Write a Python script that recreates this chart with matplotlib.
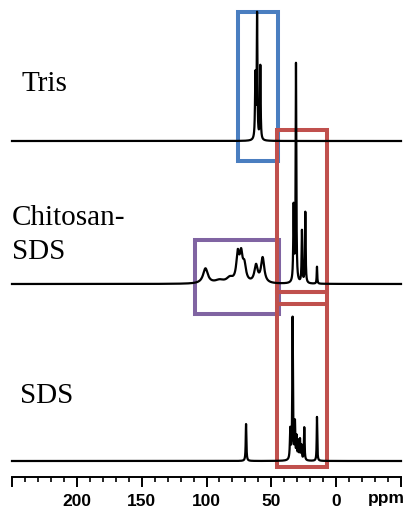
import numpy as np
import matplotlib
matplotlib.use("Agg")
import matplotlib.pyplot as plt
from matplotlib.patches import Rectangle
from matplotlib.ticker import MultipleLocator

# ---- data (peak lists) ----
# chemical shift (ppm), peak height (px), half width (ppm)
tris_ppm = [62.3, 61.0, 58.5]
tris_h = [64, 124, 74]
tris_w = [0.35, 0.3, 0.3]

chs_ppm = [100.8, 90.0, 82.0, 75.9, 73.3, 70.8, 61.8, 56.7, 32.8, 31.0, 26.4, 23.8, 14.8]
chs_h = [15, 3, 5, 27, 25, 16, 17, 25, 75, 218, 52, 71, 17]
chs_w = [2.2, 4.0, 3.0, 1.3, 1.3, 1.5, 1.5, 1.5, 0.35, 0.3, 0.3, 0.3, 0.25]

sds_ppm = [69.5, 35.4, 33.6, 31.8, 30.5, 29.2, 27.9, 26.7, 24.6, 14.8]
sds_h = [37, 30, 142, 36, 22, 18, 20, 14, 33, 44]
sds_w = [0.3, 0.35, 0.3, 0.3, 0.3, 0.3, 0.3, 0.3, 0.3, 0.25]

baselines = {"Tris": 141, "Chitosan-SDS": 284, "SDS": 461}

x_ticks = [250, 200, 150, 100, 50, 0, -50]
x_ticklabels = ["", "200", "150", "100", "50", "0", ""]

# boxes: (ppm_left, ppm_right, y_top_px, y_bottom_px, color)
boxes = [
    (108.5, 44.4, 240, 314, "#8064a2"),
    (75.9, 44.6, 12, 161, "#4a7ec0"),
    (45.6, 6.7, 130, 292, "#c0504d"),
    (45.6, 6.7, 292, 467, "#c0504d"),
]


def px_to_ppm(px):
    return (337 - px) / 1.3


def spectrum(x, ppm, h, w):
    y = np.zeros_like(x)
    for p, a, g in zip(ppm, h, w):
        y += a * g**2 / ((x - p) ** 2 + g**2)
    return y


fig = plt.figure(figsize=(4.04, 5.13), dpi=100)
ax = fig.add_axes([12 / 404, 36 / 513, 389 / 404, 477 / 513])
ax.set_xlim(250, -50)
ax.set_ylim(477, 0)
for s in ["left", "top", "right"]:
    ax.spines[s].set_visible(False)
ax.spines["bottom"].set_linewidth(1.4)
ax.set_yticks([])

# boxes
for l, r, t, b, c in boxes:
    ax.add_patch(Rectangle((r, t), l - r, b - t, fill=False, edgecolor=c,
                           linewidth=2.9, joinstyle="miter", zorder=2, clip_on=False))
ax.plot([45.6, 6.7], [304, 304], color="#c0504d", lw=2.9, zorder=2,
        solid_capstyle="butt", clip_on=False)

x = np.linspace(250, -50, 12000)
for (pp, hh, ww), key in [((tris_ppm, tris_h, tris_w), "Tris"),
                          ((chs_ppm, chs_h, chs_w), "Chitosan-SDS"),
                          ((sds_ppm, sds_h, sds_w), "SDS")]:
    y = baselines[key] - spectrum(x, pp, hh, ww)
    ax.plot(x, y, color="black", lw=1.6, zorder=3, clip_on=False)

# labels
serif = ["Liberation Serif", "DejaVu Serif"]
ax.text(px_to_ppm(22), 90.7, "Tris", family=serif, fontsize=21, va="baseline", ha="left", clip_on=False)
ax.text(px_to_ppm(11.7), 225, "Chitosan-", family=serif, fontsize=21, va="baseline", ha="left", clip_on=False)
ax.text(px_to_ppm(11.7), 259, "SDS", family=serif, fontsize=21, va="baseline", ha="left", clip_on=False)
ax.text(px_to_ppm(20), 402.7, "SDS", family=serif, fontsize=21, va="baseline", ha="left", clip_on=False)

# x axis
ax.set_xticks(x_ticks)
ax.set_xticklabels(x_ticklabels, family="Liberation Sans", fontweight="bold", fontsize=12.5)
ax.xaxis.set_minor_locator(MultipleLocator(10))
ax.tick_params(axis="x", which="major", length=7, width=1.4, pad=5, direction="out")
ax.tick_params(axis="x", which="minor", length=3.5, width=1.2, direction="out")
ax.text(px_to_ppm(387), 499, "ppm", family="Liberation Sans", fontweight="bold",
        fontsize=12.5, ha="center", va="center", clip_on=False)

fig.savefig("out.png", dpi=100)
